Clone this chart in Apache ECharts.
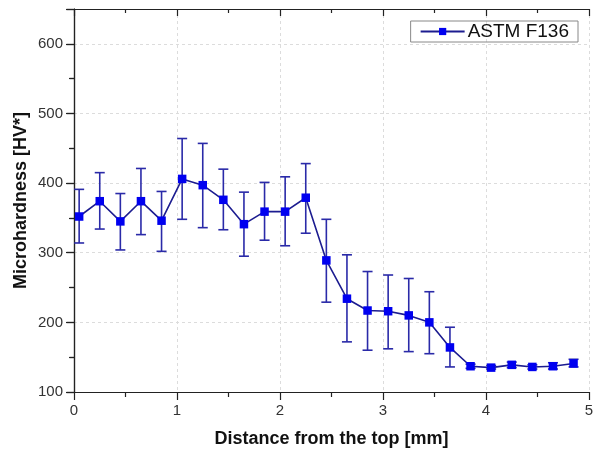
<!DOCTYPE html>
<html>
<head>
<meta charset="utf-8">
<script src="https://cdn.jsdelivr.net/npm/echarts@6/dist/echarts.min.js"></script>
<style>html,body{margin:0;padding:0;background:#fff}#c{width:596px;height:450px}</style>
</head>
<body>
<div id="c"></div>
<script>
const seriesName = 'ASTM F136';
const xValues = [0.05,0.25,0.45,0.65,0.85,1.05,1.25,1.45,1.65,1.85,2.05,2.25,2.45,2.65,2.85,3.05,3.25,3.45,3.65,3.85,4.05,4.25,4.45,4.65,4.85];
const meanValues = [352,374,345,374,346,406,397,376,341,359,359,379,289,234,217,216,210,200,164,137,135,139,136,137,141];
const lowValues  = [314,334,304,326,302,348,336,333,295,318,310,328,229,172,160,162,158,155,136,134,133,135,133,133,136];
const highValues = [391,415,385,421,388,464,457,420,387,401,409,428,348,297,273,268,263,244,193,140,138,143,139,142,147];
const xTicks = [0,1,2,3,4,5];
const yTicks = [100,200,300,400,500,600];

const font = 'Liberation Sans, Arial, sans-serif';
const lineData = xValues.map((x,i)=>[x, meanValues[i]]);
const errData = xValues.map((x,i)=>[x, lowValues[i], highValues[i]]);

const chart = echarts.init(document.getElementById('c'));
const tickStyle = {color:'#222', width:1.2};
const axisCommon = {
  axisLine:{show:true, lineStyle:{color:'#222', width:1.2}},
  axisTick:{show:true, length:8, lineStyle:tickStyle},
  minorTick:{show:true, splitNumber:2, length:5, lineStyle:tickStyle},
  axisLabel:{color:'#333', fontFamily:font, fontSize:15},
  nameTextStyle:{color:'#111', fontFamily:font, fontSize:18, fontWeight:'bold'}
};
const inner = {
  axisTick:{show:true, inside:true, length:7, lineStyle:tickStyle},
  minorTick:{show:true, splitNumber:2, length:4, lineStyle:tickStyle},
  axisLabel:{show:false}, splitLine:{show:false}
};
chart.setOption({
  animation:false,
  backgroundColor:'#fff',
  grid:{left:74, right:7, top:9, bottom:58, containLabel:false, outerBoundsMode:'none'},
  legend:{
    data:[seriesName], right:18, top:21,
    itemWidth:44, itemHeight:9, itemGap:6,
    padding:[1,9,1,9],
    borderColor:'#888', borderWidth:1, borderRadius:0,
    textStyle:{fontFamily:font, fontSize:19, color:'#111', padding:[0,0,0,-2]}
  },
  xAxis:[
    Object.assign({}, axisCommon, {
      type:'value', min:0, max:5, interval:1,
      name:'Distance from the top [mm]', nameLocation:'middle', nameGap:38,
      splitLine:{show:true, lineStyle:{type:[3,3], color:'#dcdcdc'}},
      axisLabel:Object.assign({}, axisCommon.axisLabel, {margin:11,
        formatter:v=>xTicks.includes(v)?String(v):''})
    }),
    Object.assign({}, axisCommon, inner, {type:'value', min:0, max:5, interval:1, position:'top'})
  ],
  yAxis:[
    Object.assign({}, axisCommon, {
      type:'value', min:100, max:650, interval:100,
      name:'Microhardness [HV*]', nameLocation:'middle', nameGap:44, nameRotate:90,
      nameMoveOverlap:false,
      splitLine:{show:true, lineStyle:{type:[3,3], color:'#dcdcdc'}},
      axisLabel:Object.assign({}, axisCommon.axisLabel, {margin:11,
        formatter:v=>yTicks.includes(v)?String(v):''})
    }),
    Object.assign({}, axisCommon, inner, {type:'value', min:100, max:650, interval:100, position:'right'})
  ],
  series:[
    {
      type:'custom', name:'err', z:2,
      data:errData,
      renderItem:function(params, api){
        const x=api.value(0), lo=api.value(1), hi=api.value(2);
        const pt=api.coord([x,hi]), pb=api.coord([x,lo]);
        const hw=5;
        const st={stroke:'#2a2aa8', lineWidth:1.6};
        return {type:'group', children:[
          {type:'line', shape:{x1:pt[0],y1:pt[1],x2:pb[0],y2:pb[1]}, style:st},
          {type:'line', shape:{x1:pt[0]-hw,y1:pt[1],x2:pt[0]+hw,y2:pt[1]}, style:st},
          {type:'line', shape:{x1:pb[0]-hw,y1:pb[1],x2:pb[0]+hw,y2:pb[1]}, style:st}
        ]};
      },
      encode:{x:0, y:[1,2]}
    },
    {
      type:'line', name:seriesName, z:3,
      data:lineData,
      symbol:'rect', symbolSize:8.5,
      lineStyle:{color:'#1c1c90', width:1.6},
      itemStyle:{color:'#0000f0', borderWidth:0}
    }
  ]
});
</script>
</body>
</html>
